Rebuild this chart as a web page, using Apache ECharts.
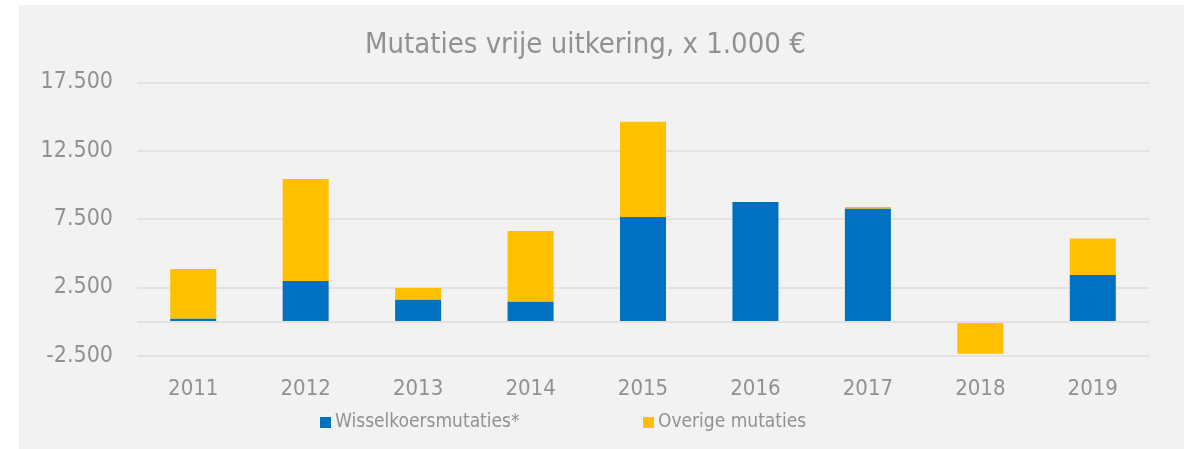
<!DOCTYPE html>
<html>
<head>
<meta charset="utf-8">
<script src="https://cdn.jsdelivr.net/npm/echarts@6/dist/echarts.min.js"></script>
<style>
html,body{margin:0;padding:0;background:#ffffff;}
#panel{position:absolute;left:19px;top:5px;width:1165px;height:444px;background:#f2f2f2;}
#chart{position:absolute;left:0;top:0;width:1192px;height:449px;}
</style>
</head>
<body>
<div id="panel"></div>
<div id="chart"></div>
<script>
const categories = ['2011','2012','2013','2014','2015','2016','2017','2018','2019'];
const wisselkoers = [220, 2970, 1620, 1470, 7650, 8750, 8260, 0, 3410];
const overige = [3630, 7450, 840, 5150, 6960, 0, 120, -2350, 2670];
const seriesNames = ['Wisselkoersmutaties*', 'Overige mutaties'];
const titleText = 'Mutaties vrije uitkering, x 1.000 €';

const FONT = '"DejaVu Sans Condensed", "DejaVu Sans", sans-serif';
const GRAY = '#919191';
const GRID = '#e2e2e2';

function fmt(v){
  const neg = v < 0;
  let s = String(Math.abs(v));
  s = s.replace(/\B(?=(\d{3})+(?!\d))/g, '.');
  return (neg ? '-' : '') + s;
}

const chart = echarts.init(document.getElementById('chart'), null, {renderer:'canvas'});
chart.setOption({
  backgroundColor: 'transparent',
  animation: false,
  title: {
    text: titleText,
    left: 360,
    top: 26,
    textStyle: {fontFamily: FONT, fontSize: 29, fontWeight: 'normal', color: GRAY}
  },
  legend: [
    {
      data: [seriesNames[0]], left: 320, top: 413, padding: 0, itemWidth: 11, itemHeight: 11, itemGap: 0,
      icon: 'rect',
      textStyle: {fontFamily: FONT, fontSize: 19, color: GRAY, padding: [0,0,0,-1]}
    },
    {
      data: [seriesNames[1]], left: 643, top: 413, padding: 0, itemWidth: 11, itemHeight: 11, itemGap: 0,
      icon: 'rect',
      textStyle: {fontFamily: FONT, fontSize: 19, color: GRAY, padding: [0,0,0,-1]}
    }
  ],
  grid: {left: 137, right: 43, top: 82.3, bottom: 93.3, containLabel: false},
  xAxis: {
    type: 'category',
    data: categories,
    axisLine: {show: false, onZero: false},
    axisTick: {show: false},
    axisLabel: {fontFamily: FONT, fontSize: 22, color: GRAY, margin: 23}
  },
  yAxis: {
    type: 'value',
    min: -2500, max: 17500, interval: 5000,
    axisLine: {show: false},
    axisTick: {show: false},
    splitLine: {lineStyle: {color: GRID, width: 2}},
    axisLabel: {fontFamily: FONT, fontSize: 23, color: GRAY, margin: 24, formatter: fmt}
  },
  series: [
    {
      name: seriesNames[0], type: 'bar', stack: 'total', data: wisselkoers, barWidth: 46,
      itemStyle: {color: '#0070c0'},
      markLine: {
        silent: true, symbol: 'none', label: {show: false},
        lineStyle: {color: GRID, width: 2, type: 'solid'},
        data: [{yAxis: 0}]
      }
    },
    {
      name: seriesNames[1], type: 'bar', stack: 'total', data: overige, barWidth: 46,
      itemStyle: {color: '#ffc000'}
    }
  ]
});
</script>
</body>
</html>
